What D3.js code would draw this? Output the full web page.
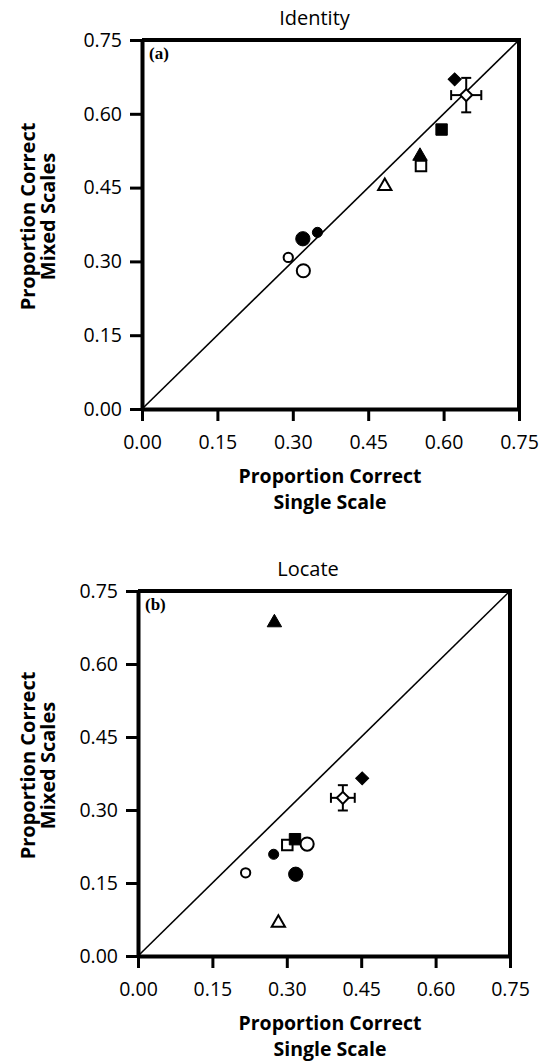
<!DOCTYPE html>
<html><head><meta charset="utf-8">
<script src="https://cdn.jsdelivr.net/npm/d3@7"></script>
<style>html,body{margin:0;padding:0;background:#fff;}svg{display:block;}</style>
</head><body>
<svg id="chart" width="545" height="1063"></svg>
<script>
// ---- data ----
const tickValues = [0, 0.15, 0.30, 0.45, 0.60, 0.75];
const tickLabels = ["0.00", "0.15", "0.30", "0.45", "0.60", "0.75"];
const panelTitles = ["Identity", "Locate"];
const panelTags = ["(a)", "(b)"];
const xTitle = ["Proportion Correct", "Single Scale"];
const yTitle = ["Proportion Correct", "Mixed Scales"];
const markers = ["square-open", "square-filled", "triangle-open", "triangle-filled",
  "circleL-open", "circleL-filled", "circleS-open", "circleS-filled",
  "diamond-filled", "diamond-open"];
const identitySingle = [0.555, 0.596, 0.483, 0.553, 0.321, 0.320, 0.291, 0.349, 0.622, 0.645];
const identityMixed  = [0.494, 0.568, 0.453, 0.514, 0.281, 0.346, 0.308, 0.359, 0.670, 0.638];
const locateSingle   = [0.301, 0.3165, 0.283, 0.275, 0.341, 0.318, 0.217, 0.2735, 0.452, 0.413];
const locateMixed    = [0.228, 0.240, 0.068, 0.685, 0.230, 0.168, 0.171, 0.209, 0.365, 0.325];
const identityErr = {x: 0.030, y: 0.035};
const locateErr = {x: 0.024, y: 0.026};

const svg = d3.select("#chart");
const FONT = "'Open Sans', sans-serif";

const panels = [
  {left: 142, right: 519, top: 40, bottom: 409, xs: identitySingle, ys: identityMixed, err: identityErr},
  {left: 138, right: 510, top: 591, bottom: 956, xs: locateSingle, ys: locateMixed, err: locateErr}
];

panels.forEach((p, i) => {
  const g = svg.append("g");
  const x = d3.scaleLinear().domain([0, 0.75]).range([p.left, p.right]);
  const y = d3.scaleLinear().domain([0, 0.75]).range([p.bottom, p.top]);

  // frame (top & right)
  g.append("line").attr("x1", x(0)).attr("x2", x(0.75)).attr("y1", y(0.75)).attr("y2", y(0.75))
    .attr("stroke", "#000").attr("stroke-width", 4);
  g.append("line").attr("x1", x(0.75)).attr("x2", x(0.75)).attr("y1", y(0.75) - 2).attr("y2", y(0))
    .attr("stroke", "#000").attr("stroke-width", 4);

  // diagonal
  g.append("line").attr("x1", x(0)).attr("y1", y(0)).attr("x2", x(0.75)).attr("y2", y(0.75))
    .attr("stroke", "#000").attr("stroke-width", 1.6);

  // axes
  const xAxis = d3.axisBottom(x).tickValues(tickValues).tickFormat((d, k) => tickLabels[k])
    .tickSize(12).tickSizeOuter(0).tickPadding(14);
  const yAxis = d3.axisLeft(y).tickValues(tickValues).tickFormat((d, k) => tickLabels[k])
    .tickSize(12).tickSizeOuter(0).tickPadding(8);
  const gx = g.append("g").attr("transform", `translate(0,${p.bottom})`).call(xAxis);
  const gy = g.append("g").attr("transform", `translate(${p.left},0)`).call(yAxis);
  [gx, gy].forEach(a => {
    a.select(".domain").attr("stroke", "#000").attr("stroke-width", 4);
    a.selectAll(".tick line").attr("stroke", "#000").attr("stroke-width", 3);
    a.selectAll(".tick text").attr("fill", "#000").style("font-family", FONT).style("font-size", "19.5px");
  });

  // titles
  g.append("text").attr("x", (p.left + p.right) / 2 - 16).attr("y", p.top - 15)
    .attr("text-anchor", "middle").style("font-family", FONT).style("font-size", "20px")
    .text(panelTitles[i]);
  g.append("text").attr("x", p.left + 7).attr("y", p.top + 19)
    .style("font-family", "'Liberation Serif', serif").style("font-weight", "bold").style("font-size", "17px")
    .text(panelTags[i]);
  xTitle.forEach((t, k) => {
    g.append("text").attr("x", 330).attr("y", p.bottom + 74 + k * 26)
      .attr("text-anchor", "middle").style("font-family", FONT).style("font-weight", "bold").style("font-size", "19.5px")
      .text(t);
  });
  const cy = (p.top + p.bottom) / 2 - 8;
  yTitle.forEach((t, k) => {
    g.append("text").attr("transform", `translate(${35 + k * 20},${cy}) rotate(-90)`)
      .attr("text-anchor", "middle").style("font-family", FONT).style("font-weight", "bold").style("font-size", "20px")
      .text(t);
  });

  // error bars on open diamond
  const di = markers.indexOf("diamond-open");
  const ex = p.xs[di], ey = p.ys[di];
  const eb = g.append("g").attr("stroke", "#000").attr("stroke-width", 2);
  eb.append("line").attr("x1", x(ex - p.err.x)).attr("x2", x(ex + p.err.x)).attr("y1", y(ey)).attr("y2", y(ey));
  eb.append("line").attr("x1", x(ex)).attr("x2", x(ex)).attr("y1", y(ey - p.err.y)).attr("y2", y(ey + p.err.y));
  [ex - p.err.x, ex + p.err.x].forEach(v => eb.append("line").attr("x1", x(v)).attr("x2", x(v)).attr("y1", y(ey) - 5).attr("y2", y(ey) + 5));
  [ey - p.err.y, ey + p.err.y].forEach(v => eb.append("line").attr("y1", y(v)).attr("y2", y(v)).attr("x1", x(ex) - 5).attr("x2", x(ex) + 5));

  // markers
  const shapeOf = {
    square: d3.symbolSquare, triangle: d3.symbolTriangle, diamond: d3.symbolSquare,
    circleL: d3.symbolCircle, circleS: d3.symbolCircle
  };
  const sizeOf = {square: 130, triangle: 90, diamond: 85, circleL: 160, circleS: 80};
  markers.forEach((m, k) => {
    const [shape, fill] = m.split("-");
    const filled = fill === "filled";
    const rot = shape === "diamond" ? 45 : 0;
    const sz = filled ? sizeOf[shape] : sizeOf[shape] * 0.85;
    g.append("path")
      .attr("d", d3.symbol().type(shapeOf[shape]).size(sz)())
      .attr("transform", `translate(${x(p.xs[k])},${y(p.ys[k])}) rotate(${rot})`)
      .attr("fill", filled ? "#000" : "#fff")
      .attr("stroke", "#000").attr("stroke-width", filled ? 1 : 2);
  });
});
</script>
</body></html>
